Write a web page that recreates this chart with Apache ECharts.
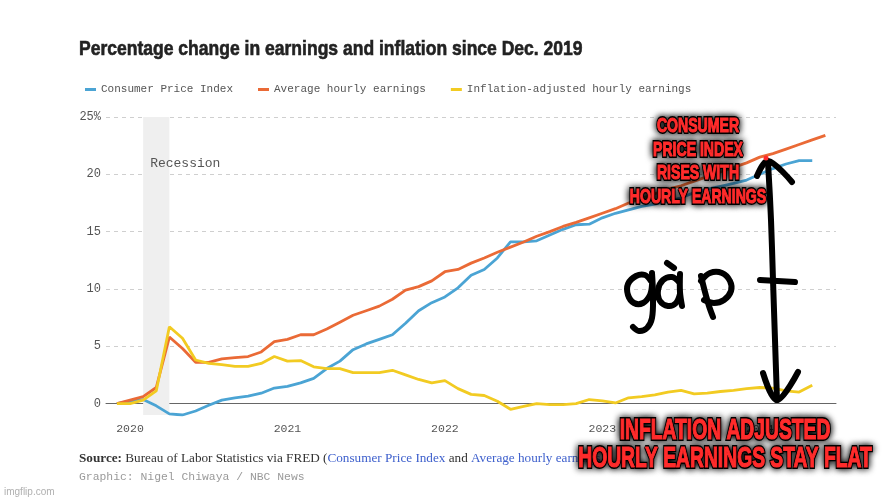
<!DOCTYPE html>
<html>
<head>
<meta charset="utf-8">
<script src="https://cdn.jsdelivr.net/npm/echarts@6.0.0/dist/echarts.min.js"></script>
<style>
html,body{margin:0;padding:0;background:#fff;}
#chart{width:889px;height:500px;}
</style>
</head>
<body>
<div id="chart"></div>
<script>
// ---- data (percent change since Dec. 2019) ----
const months = [
  '2019-12',
  '2020-01','2020-02','2020-03','2020-04','2020-05','2020-06','2020-07','2020-08','2020-09','2020-10','2020-11','2020-12',
  '2021-01','2021-02','2021-03','2021-04','2021-05','2021-06','2021-07','2021-08','2021-09','2021-10','2021-11','2021-12',
  '2022-01','2022-02','2022-03','2022-04','2022-05','2022-06','2022-07','2022-08','2022-09','2022-10','2022-11','2022-12',
  '2023-01','2023-02','2023-03','2023-04','2023-05','2023-06','2023-07','2023-08','2023-09','2023-10','2023-11','2023-12',
  '2024-01','2024-02','2024-03','2024-04','2024-05','2024-06'
];
const cpi = [
  0, 0.2, 0.35, -0.2, -0.9, -1.0, -0.65, -0.15, 0.3, 0.5, 0.65, 0.9, 1.35,
  1.5, 1.8, 2.2, 3.05, 3.7, 4.7, 5.2, 5.6, 6.0, 7.0, 8.1, 8.8,
  9.3, 10.1, 11.2, 11.7, 12.7, 14.1, 14.1, 14.2, 14.7, 15.2, 15.6, 15.65,
  16.2, 16.6, 16.9, 17.2, 17.4, 17.65, 17.95, 18.4, 18.7, 18.95, 19.2, 19.5,
  20.0, 20.5, 20.9, 21.2, 21.2
];
const hourlyEarnings = [
  0, 0.3, 0.6, 1.4, 5.8, 4.8, 3.6, 3.6, 3.9, 4.0, 4.1, 4.5, 5.4,
  5.6, 6.0, 6.0, 6.5, 7.1, 7.7, 8.1, 8.5, 9.1, 9.9, 10.2, 10.7,
  11.5, 11.7, 12.25, 12.7, 13.2, 13.65, 14.1, 14.6, 15.0, 15.45, 15.8, 16.2,
  16.6, 17.0, 17.5, 17.9, 18.3, 18.7, 19.0, 19.4, 19.8, 20.2, 20.6, 21.0,
  21.5, 21.8, 22.2, 22.6, 23.0, 23.4
];
const realEarnings = [
  0, 0, 0.3, 1.1, 6.7, 5.7, 3.8, 3.5, 3.4, 3.25, 3.25, 3.5, 4.1,
  3.7, 3.75, 3.2, 3.05, 3.05, 2.7, 2.7, 2.7, 2.9, 2.5, 2.1, 1.8,
  2.0, 1.3, 0.8, 0.7, 0.2, -0.5, -0.25, 0.0, -0.1, -0.1, 0.0, 0.35,
  0.23, 0.05, 0.5, 0.6, 0.75, 1.0, 1.15, 0.85, 0.9, 1.05, 1.15, 1.3,
  1.4, 1.35, 1.1, 1.0, 1.6
];
const seriesNames = ['Consumer Price Index', 'Average hourly earnings', 'Inflation-adjusted hourly earnings'];
const seriesColors = ['#4ba4d4', '#ea6a36', '#f2cb22'];
const yearTicks = ['2020-01', '2021-01', '2022-01', '2023-01', '2024-01'];
const yTicks = [0, 5, 10, 15, 20, 25];
const recession = ['2020-02', '2020-04'];

const titleText = 'Percentage change in earnings and inflation since Dec. 2019';
const annotationTop = 'CONSUMER\nPRICE INDEX\nRISES WITH\nHOURLY EARNINGS';
const annotationBottom = 'INFLATION ADJUSTED\nHOURLY EARNINGS STAY FLAT';

// month index on the x value axis
const mIdx = m => months.indexOf(m);
function pairs(vals) { return vals.map((v, i) => [i, v]); }

const mono = '"Liberation Mono", "DejaVu Sans Mono", monospace';
const serif = '"Liberation Serif", "DejaVu Serif", serif';
const memeFont = '"Liberation Sans", Arial, sans-serif';

const ink = { stroke: '#000', lineWidth: 6, fill: null, lineCap: 'round', lineJoin: 'round' };
function stroke(points, w) {
  return { type: 'polyline', z: 100, shape: { points: points, smooth: 0.35 },
           style: Object.assign({}, ink, w ? { lineWidth: w } : {}) };
}
function meme(text, x, y, size, lh, sx) {
  const base = { text: text, fontFamily: memeFont, fontWeight: 'bold', fontSize: size, lineHeight: lh,
                 align: 'center', verticalAlign: 'middle' };
  return [
    { type: 'text', x: x, y: y, scaleX: sx, z: 110,
      style: Object.assign({}, base, { fill: '#000', stroke: '#000', lineWidth: 4, lineJoin: 'round',
                                       textShadowColor: '#000', textShadowBlur: 7 }) },
    { type: 'text', x: x, y: y, scaleX: sx, z: 111,
      style: Object.assign({}, base, { fill: '#ff2b2b', stroke: '#ff2b2b', lineWidth: 1.2, lineJoin: 'round' }) }
  ];
}

const chart = echarts.init(document.getElementById('chart'), null, { renderer: 'canvas' });
chart.setOption({
  animation: false,
  backgroundColor: '#fff',
  grid: { left: 106, right: 53, top: 117, bottom: 85 },
  legend: {
    data: seriesNames,
    left: 80, top: 79,
    icon: 'rect', itemWidth: 11, itemHeight: 3, itemGap: 25,
    textStyle: { fontFamily: mono, fontSize: 11, color: '#555' }
  },
  xAxis: {
    type: 'value',
    min: -0.83, max: 54.81,
    axisLine: { onZero: true, lineStyle: { color: '#666', width: 1 } },
    axisTick: { show: false },
    splitLine: { show: false },
    axisLabel: {
      customValues: yearTicks.map(mIdx),
      formatter: v => months[Math.round(v)].slice(0, 4),
      fontFamily: mono, fontSize: 11.5, color: '#555', margin: 8
    }
  },
  yAxis: {
    type: 'value',
    min: -1, max: 25, splitNumber: 5,
    axisLine: { show: false },
    axisTick: { show: false },
    axisLabel: {
      customValues: yTicks,
      formatter: v => v === 25 ? '25%' : String(v),
      fontFamily: mono, fontSize: 12, color: '#555', margin: 5
    },
    splitLine: { showMinLine: false, lineStyle: { color: '#cfcfcf', type: [4, 4], width: 1 } }
  },
  series: [
    {
      name: 'recession', type: 'line', data: [], silent: true,
      markArea: {
        silent: true,
        itemStyle: { color: '#efefef' },
        label: { show: true, position: [7, 40], fontFamily: mono, fontSize: 13, color: '#555' },
        data: [[{ name: 'Recession', xAxis: mIdx(recession[0]) }, { xAxis: mIdx(recession[1]) }]]
      }
    },
    { name: seriesNames[0], type: 'line', data: pairs(cpi), showSymbol: false,
      lineStyle: { width: 2.8, color: seriesColors[0] }, itemStyle: { color: seriesColors[0] } },
    { name: seriesNames[1], type: 'line', data: pairs(hourlyEarnings), showSymbol: false,
      lineStyle: { width: 2.8, color: seriesColors[1] }, itemStyle: { color: seriesColors[1] } },
    { name: seriesNames[2], type: 'line', data: pairs(realEarnings), showSymbol: false,
      lineStyle: { width: 2.8, color: seriesColors[2] }, itemStyle: { color: seriesColors[2] } }
  ],
  graphic: [
    { type: 'text', x: 79, y: 49, scaleX: 0.855, z: 100,
      style: { text: titleText, fontFamily: memeFont, fontWeight: 'bold', fontSize: 20.5, fill: '#222',
               stroke: '#222', lineWidth: 0.6, verticalAlign: 'middle' } },
    { type: 'text', x: 79, y: 459, z: 100,
      style: {
        text: '{b|Source:} {n|Bureau of Labor Statistics via FRED (}{l|Consumer Price Index}{n| and }{l|Average hourly earnings}{n|)}',
        verticalAlign: 'middle',
        rich: {
          b: { fontFamily: serif, fontWeight: 'bold', fontSize: 13.2, fill: '#333' },
          n: { fontFamily: serif, fontSize: 13.2, fill: '#333' },
          l: { fontFamily: serif, fontSize: 13.2, fill: '#3d5fcc' }
        }
      } },
    { type: 'text', x: 79, y: 477, z: 100,
      style: { text: 'Graphic: Nigel Chiwaya / NBC News', fontFamily: mono, fontSize: 11.4, fill: '#9a9a9a', verticalAlign: 'middle' } },
    { type: 'text', x: 4, y: 492, z: 100,
      style: { text: 'imgflip.com', fontFamily: '"Liberation Sans", sans-serif', fontSize: 10, fill: '#b0b0b0', verticalAlign: 'middle' } },

    // hand-drawn "gap"
    stroke([[651,281],[645,275],[636,276],[628,284],[628,295],[634,303],[643,303],[650,295],[652,285]]),
    stroke([[652,273],[653,296],[652,318],[647,328],[639,331],[633,327]]),
    stroke([[679,282],[672,277],[663,280],[658,290],[660,301],[668,306],[676,303],[680,294]]),
    stroke([[680,274],[680,292],[682,306]]),
    stroke([[667,263],[674,268]]),
    stroke([[701,276],[705,292],[709,306],[713,317]]),
    stroke([[701,281],[710,273],[722,273],[730,281],[731,291],[724,300],[714,303],[704,300]]),
    // double arrow with tick
    stroke([[768,162],[771,220],[773,280],[775,340],[777,400]], 6),
    stroke([[757,176],[768,161],[792,182]], 6),
    stroke([[763,373],[777,400],[798,372]], 6),
    stroke([[760,280],[795,282]], 6),
    { type: 'circle', z: 101, shape: { cx: 766, cy: 158, r: 2.5 }, style: { fill: '#ff2b2b' } }
  ]
  .concat(meme(annotationTop, 698, 161.5, 21, 23.5, 0.67))
  .concat(meme(annotationBottom, 725, 445, 29, 28.5, 0.665))
});
</script>
</body>
</html>
